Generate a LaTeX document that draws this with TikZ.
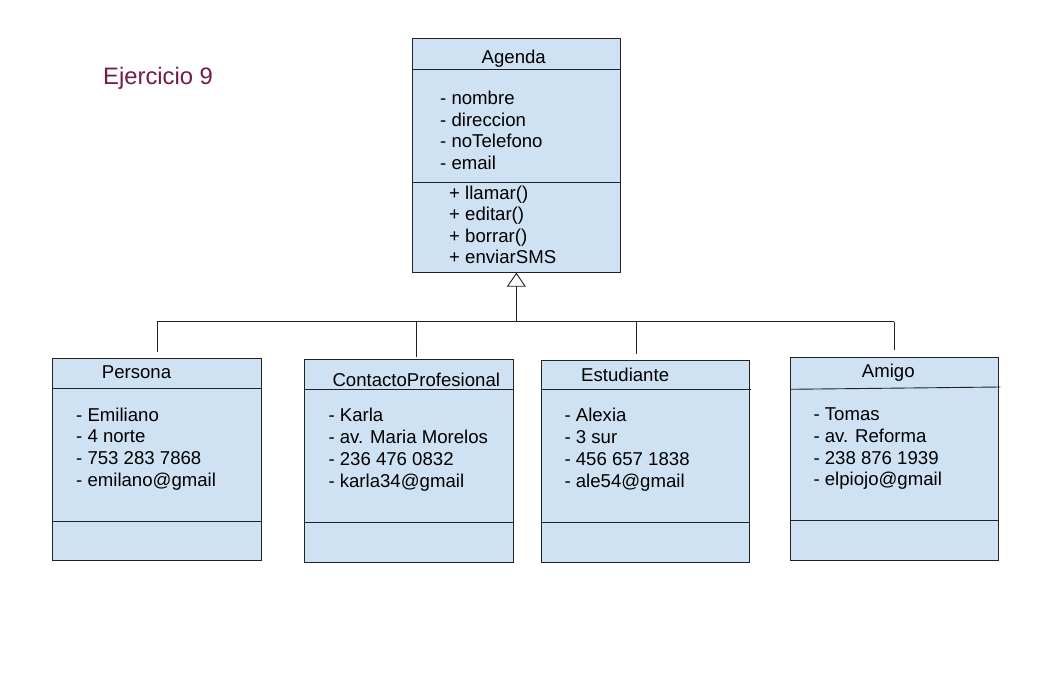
\documentclass[tikz,border=0pt]{standalone}
\usepackage{fontspec}
\setmainfont{Liberation Sans}
\usetikzlibrary{arrows.meta,calc}
\definecolor{boxfill}{HTML}{CFE2F3}
\definecolor{titlered}{HTML}{741B47}
\definecolor{linec}{HTML}{222222}
\begin{document}
\begin{tikzpicture}[x=1pt,y=-1pt,
  classbox/.style={draw=linec, line width=0.9pt, fill=boxfill, rectangle, inner sep=0pt, outer sep=0pt, anchor=north west},
  txt/.style={anchor=base west, inner sep=0pt, font=\fontsize{18.6}{21}\selectfont},
  conn/.style={draw=linec, line width=0.9pt}]
\fill[white] (0,0) rectangle (1049,679);
\useasboundingbox (0,0) rectangle (1049,679);

% title
\node[anchor=base west, inner sep=0pt, text=titlered, font=\fontsize{23.8}{28}\selectfont] (title) at (103,84.3) {Ejercicio 9};

% Agenda
\node[classbox, minimum width=207.3pt, minimum height=234.4pt] (agenda) at (412.7,38.3) {};
\draw[conn] ($(agenda.north west)+(0,31)$) -- ($(agenda.north east)+(0,31)$);
\draw[conn] ($(agenda.north west)+(0,144)$) -- ($(agenda.north east)+(0,144)$);
\node[txt] (agt) at (481.5,63.3) {Agenda};
\node[txt] (ag1) at (440,105) {- nombre};
\node[txt] (ag2) at (440,126.4) {- direccion};
\node[txt] (ag3) at (440,147.8) {- noTelefono};
\node[txt] (ag4) at (440,169.2) {- email};
\node[txt] (ag5) at (449,199.5) {+ llamar()};
\node[txt] (ag6) at (449,220.9) {+ editar()};
\node[txt] (ag7) at (449,242.3) {+ borrar()};
\node[txt] (ag8) at (449,263.7) {+ enviarSMS};

% Persona
\node[classbox, minimum width=209.4pt, minimum height=202.4pt] (persona) at (52.3,358.3) {};
\draw[conn] ($(persona.north west)+(0,30.4)$) -- ($(persona.north east)+(0,30.4)$);
\draw[conn] ($(persona.north west)+(0,162.7)$) -- ($(persona.north east)+(0,162.7)$);
\node[txt] (pt) at (101.7,378.3) {Persona};
\node[txt] (p1) at (76,421) {- Emiliano};
\node[txt] (p2) at (76,442.5) {- 4 norte};
\node[txt] (p3) at (76,464.5) {- 753 283 7868};
\node[txt] (p4) at (76,486) {- emilano@gmail};

% ContactoProfesional
\node[classbox, minimum width=209pt, minimum height=203pt] (cp) at (304.3,359.3) {};
\draw[conn] ($(cp.north west)+(0,30.4)$) -- ($(cp.north east)+(0,30.4)$);
\draw[conn] ($(cp.north west)+(0,162.7)$) -- ($(cp.north east)+(0,162.7)$);
\node[txt] (cpt) at (332.3,386) {ContactoProfesional};
\node[txt] (c1) at (328.3,421.7) {- Karla};
\node[txt] (c2) at (328.3,443.5) {- av. Maria Morelos};
\node[txt] (c3) at (328.3,465.5) {- 236 476 0832};
\node[txt] (c4) at (328.3,487.3) {- karla34@gmail};

% Estudiante
\node[classbox, minimum width=207.6pt, minimum height=202.7pt] (est) at (541.7,360) {};
\draw[conn] ($(est.north west)+(0,29.3)$) -- ($(est.north east)+(1.5,29.3)$);
\draw[conn] ($(est.north west)+(0,162)$) -- ($(est.north east)+(0,162)$);
\node[txt] (et) at (581,381.7) {Estudiante};
\node[txt] (e1) at (564.3,421.7) {- Alexia};
\node[txt] (e2) at (564.3,443.5) {- 3 sur};
\node[txt] (e3) at (564.3,465.5) {- 456 657 1838};
\node[txt] (e4) at (564.3,487.3) {- ale54@gmail};

% Amigo
\node[classbox, minimum width=208.3pt, minimum height=202.7pt] (amigo) at (790,357.3) {};
\draw[conn] ($(amigo.north west)+(0,32)$) -- ($(amigo.north east)+(2,29.7)$);
\draw[conn] ($(amigo.north west)+(0,162.7)$) -- ($(amigo.north east)+(0,162.7)$);
\node[txt] (at) at (861.7,377.3) {Amigo};
\node[txt] (a1) at (813.3,420.7) {- Tomas};
\node[txt] (a2) at (813.3,442) {- av. Reforma};
\node[txt] (a3) at (813.3,464) {- 238 876 1939};
\node[txt] (a4) at (813.3,485.7) {- elpiojo@gmail};

% connectors
\coordinate (bus) at (516.7,321.7);
\draw[conn, -{Triangle[open, length=14pt, width=19pt, line width=0.9pt]}] (agenda.south |- bus) -- (agenda.south);
\draw[conn] (persona.north |- bus) -- (amigo.north |- bus);
\draw[conn, shorten >=6.5pt] (persona.north |- bus) -- (persona.north);
\draw[conn, shorten >=2.5pt] ($(cp.north |- bus)+(8,0)$) -- ($(cp.north)+(8,0)$);
\draw[conn, shorten >=6pt] ($(est.north |- bus)+(-9,0)$) -- ($(est.north)+(-9,0)$);
\draw[conn, shorten >=7pt] (amigo.north |- bus) -- (amigo.north);
\end{tikzpicture}
\end{document}
